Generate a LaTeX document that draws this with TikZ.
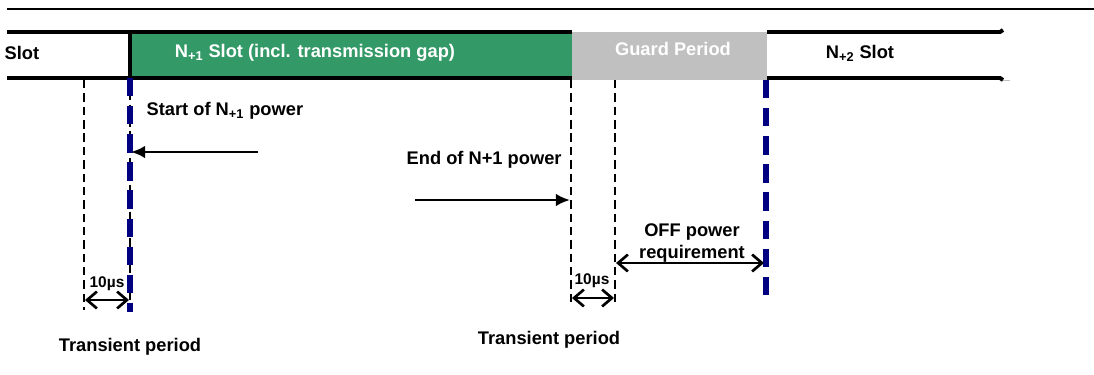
\documentclass[tikz,border=0pt]{standalone}
\usepackage{fontspec}
\setmainfont{Liberation Sans}
\usetikzlibrary{arrows.meta}
\definecolor{slotgreen}{RGB}{51,153,102}
\definecolor{guardgray}{RGB}{192,192,192}
\definecolor{markblue}{RGB}{0,0,128}

\begin{document}
\begin{tikzpicture}[
  x=0.025cm, y=-0.025cm,
  lbl/.style={font=\bfseries\fontsize{13}{16}\selectfont, align=center, inner sep=1pt},
  small/.style={font=\bfseries\fontsize{11}{13}\selectfont, inner sep=1pt},
  band/.style={line width=2.8pt},
  tick/.style={line width=1.9pt, dash pattern=on 6pt off 3.5pt},
  edgemark/.style={line width=3.6pt, color=markblue, dash pattern=on 13pt off 7pt},
  ptr/.style={-{Latex[length=10pt,width=9pt]}, line width=1.9pt},
  span/.style={{Straight Barb[length=7pt,width=12pt]}-{Straight Barb[length=7pt,width=12pt]}, line width=1.9pt}
]
  \useasboundingbox (0,0) rectangle (1094,375);

  % top rule
  \draw[line width=2pt] (7,9) -- (1094,9);

  % slots
  \fill[slotgreen] (132,32) rectangle (572,78);
  \fill[guardgray] (572,32) rectangle (767,80);
  \draw[band] (7,32) -- (572,32);
  \draw[band] (7,78) -- (572,78);
  \draw[band] (130,32) -- (130,78);
  \draw[band] (767,32) -- (1000,32) -- (1003,30);
  \draw[band] (767,78) -- (1000,78) -- (1003,80);
  \draw[guardgray, line width=0.6pt] (1003,80) -- (1010,80);

  \node[lbl, anchor=west] (slot0) at (3,53) {Slot};
  \node[lbl, text=white] (slot1) at (315,53) {N\textsubscript{+1} Slot (incl. transmission gap)};
  \node[lbl, text=white] (guard) at (673,49) {Guard Period};
  \node[lbl] (slot2) at (860,53) {N\textsubscript{+2} Slot};

  % period markers
  \coordinate (a0) at (84,80);   \coordinate (a1) at (84,310);
  \coordinate (b0) at (130,78);  \coordinate (b1) at (130,312);
  \coordinate (c0) at (571,80);  \coordinate (c1) at (571,305);
  \coordinate (d0) at (615,80);  \coordinate (d1) at (615,305);
  \coordinate (e0) at (766,80);  \coordinate (e1) at (766,302);
  \draw[tick] (a0) -- (a1);
  \draw[tick] (b0) -- (b1);
  \draw[tick] (c0) -- (c1);
  \draw[tick] (d0) -- (d1);
  \draw[edgemark] (b0) -- (b1);
  \draw[edgemark] (e0) -- (e1);

  % power labels
  \node[lbl, anchor=west] (start) at (145,111) {Start of N\textsubscript{+1} power};
  \coordinate (startfrom) at (258,152);
  \coordinate (startto) at (131,152);
  \draw[ptr] (startfrom) -- (startto);

  \node[lbl, anchor=west] (end) at (405,160) {End of N+1 power};
  \coordinate (endfrom) at (415,200);
  \coordinate (endto) at (570,200);
  \draw[ptr] (endfrom) -- (endto);

  \node[lbl] (off) at (692,243) {OFF power\\requirement};
  \coordinate (offl) at (616,263);
  \coordinate (offr) at (764,263);
  \draw[span] (offl) -- (offr);

  % transient periods
  \coordinate (t1l) at (85,300);  \coordinate (t1r) at (129,300);
  \draw[span] (t1l) -- (t1r);
  \node[small] (us1) at (107,284) {10µs};
  \coordinate (t2l) at (572,298); \coordinate (t2r) at (614,298);
  \draw[span] (t2l) -- (t2r);
  \node[small] (us2) at (592,281) {10µs};

  \node[lbl] (trans1) at (130,347) {Transient period};
  \node[lbl] (trans2) at (549,340) {Transient period};
\end{tikzpicture}
\end{document}
